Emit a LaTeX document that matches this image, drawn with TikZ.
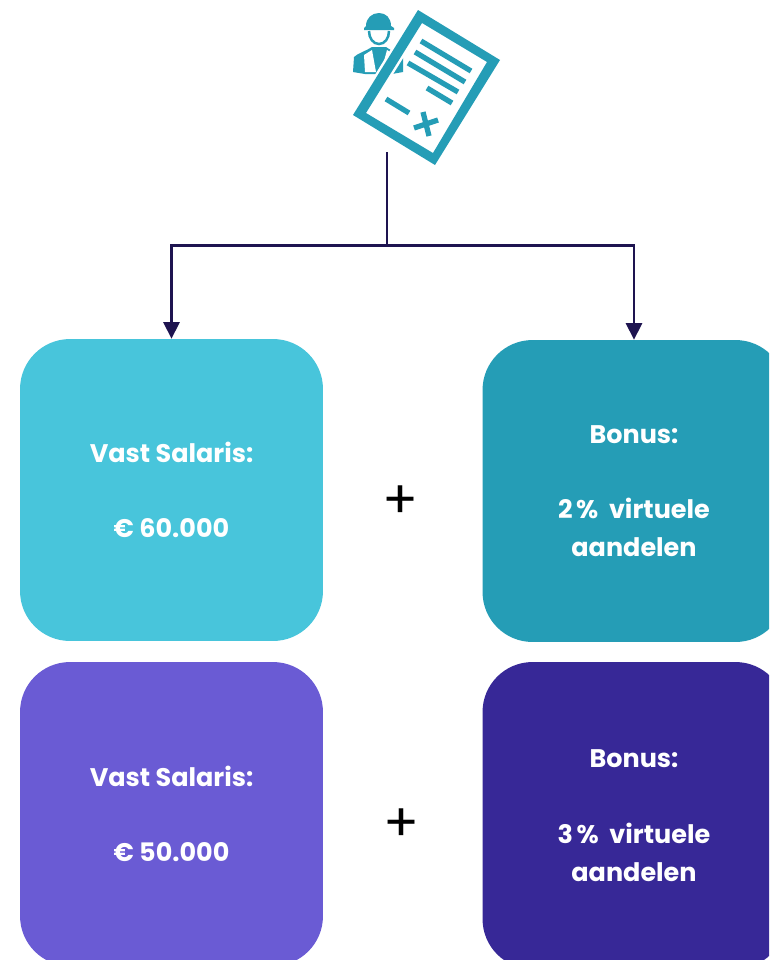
\documentclass[tikz,border=0pt]{standalone}
\usepackage{fontspec}
\setmainfont{Poppins}
\usepackage{tikz}
\usetikzlibrary{arrows.meta}

\definecolor{LightTeal}{HTML}{48C5DB}
\definecolor{DarkTeal}{HTML}{259DB6}
\definecolor{LightViolet}{HTML}{6A5BD4}
\definecolor{DarkViolet}{HTML}{372897}
\definecolor{LineNavy}{HTML}{1E1450}

\tikzset{
    paybox/.style = {minimum width = 6.06cm, minimum height = 6.04cm, rounded corners = 1cm, align = center,
        text = white, font = \fontsize{14.5}{21.5}\selectfont\bfseries},
    plussign/.style = {font = \fontsize{30}{30}\selectfont, text = black},
    branch/.style = {draw = LineNavy, line width = 1.6pt, -{Triangle[length = 3.3mm, width = 3.2mm]}},
    iconline/.style = {draw = DarkTeal, line width = 0.105cm}
}

\begin{document}
\begin{tikzpicture}[x = 0.02cm, y = -0.02cm]
    \useasboundingbox (0, 0) rectangle (769, 960);
    \clip (0, 0) rectangle (769, 960);
    \fill [white] (0, 0) rectangle (769, 960);

    % worker
    \fill [DarkTeal] (366, 26) .. controls (366, 18) and (372, 13) .. (379, 13) .. controls (386, 13) and (391, 18) .. (391, 26) -- (394, 28) -- (394, 30) -- (364, 30) -- (364, 28) -- cycle;
    \draw [DarkTeal, line width = 0.05cm] (369, 31) .. controls (369, 38) and (373, 44) .. (379, 44) .. controls (385, 44) and (389, 38) .. (389, 31);
    \fill [DarkTeal] (353, 72) -- (354, 57) .. controls (358, 53) and (366, 51) .. (372, 47) -- (386, 47) .. controls (391, 51) and (399, 53) .. (403, 58) -- (403, 72) -- (392, 74) -- (365, 74) -- cycle;
    \fill [white] (364, 55) -- (372, 50) -- (376, 72) -- (365, 72) -- cycle;
    \fill [white] (387, 50) -- (395, 55) -- (394, 72) -- (381, 72) -- cycle;

    % contract
    \draw [white, line width = 0.1cm] (418, 10) -- (500, 60) -- (435, 165) -- (353, 115) -- cycle
        (422, 23) -- (487, 62) -- (433, 153) -- (366, 113) -- cycle;
    \fill [DarkTeal, even odd rule] (418, 10) -- (500, 60) -- (435, 165) -- (353, 115) -- cycle
        (422, 23) -- (487, 62) -- (433, 153) -- (366, 113) -- cycle;
    \draw [iconline] (421, 41) -- (471, 71);
    \draw [iconline] (415, 52) -- (465, 82);
    \draw [iconline] (408, 63) -- (458, 92);
    \draw [iconline] (427, 88) -- (452, 103);
    \draw [iconline] (386, 99) -- (409, 113);
    \draw [iconline] (414, 128) -- (438, 120);
    \draw [iconline] (423, 112) -- (429, 136);

    \node [paybox, fill = LightTeal] (fixed1) at (171.5, 490) {Vast Salaris:\\\mbox{}\\€ 60.000};
    \node [paybox, fill = DarkTeal] (bonus1) at (634, 491) {Bonus:\\\mbox{}\\2\kern2pt\%\hspace{3pt} virtuele\\aandelen};
    \node [paybox, fill = LightViolet, minimum height = 6.08cm] (fixed2) at (171.5, 814) {Vast Salaris:\\\mbox{}\\€ 50.000};
    \node [paybox, fill = DarkViolet, minimum height = 6.14cm] (bonus2) at (634, 815.5) {Bonus:\\\mbox{}\\3\kern2pt\%\hspace{3pt} virtuele\\aandelen};

    \node [plussign] (plus1) at (400.5, 502.5) {+};
    \node [plussign] (plus2) at (401.5, 825) {+};

    \coordinate (contract) at (387, 152);
    \coordinate (split) at (387, 245.5);
    \draw [branch] (contract) -- (split) -| (fixed1.north);
    \draw [branch] (split) -| (bonus1.north);
\end{tikzpicture}
\end{document}
